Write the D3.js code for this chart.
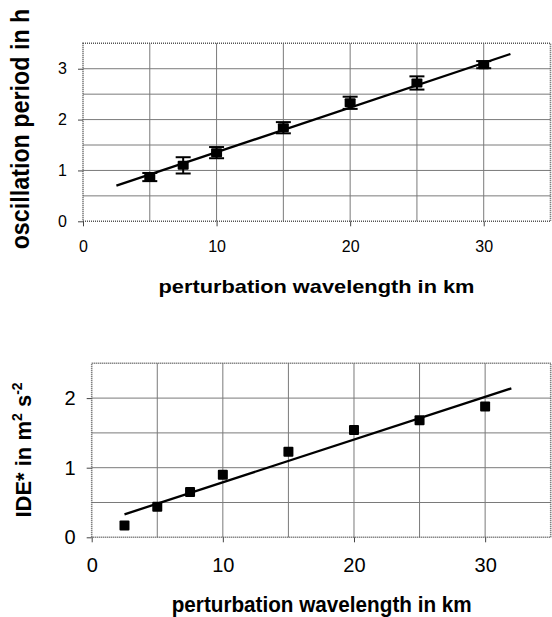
<!DOCTYPE html>
<html><head><meta charset="utf-8">
<script src="https://cdn.jsdelivr.net/npm/d3@7"></script>
<style>
html,body{margin:0;padding:0;background:#fff;}
svg{display:block;font-family:"Liberation Sans",Arial,Helvetica,sans-serif;}
</style></head>
<body>
<svg id="c" width="552" height="617"></svg>
<script>
// ---- data ----
const wavelengths1 = [5, 7.5, 10, 15, 20, 25, 30];
const periods = [0.87, 1.10, 1.35, 1.84, 2.33, 2.72, 3.08];
const periodErr = [0.08, 0.16, 0.11, 0.11, 0.12, 0.13, 0.07];
const periodFitX = [2.5, 32];
const periodFitY = [0.70, 3.29];

const wavelengths2 = [2.5, 5, 7.5, 10, 15, 20, 25, 30];
const ide = [0.17, 0.44, 0.65, 0.90, 1.23, 1.54, 1.68, 1.88];
const ideFitX = [2.5, 32];
const ideFitY = [0.33, 2.14];

const xTicks = [0, 10, 20, 30];
const xGrid = [5, 10, 15, 20, 25, 30];
const yTicks1 = [0, 1, 2, 3];
const yGrid1 = [0.5, 1, 1.5, 2, 2.5, 3];
const yTicks2 = [0, 1, 2];
const yGrid2 = [0.5, 1, 1.5, 2];

const svg = d3.select("#c");

function panel(opt) {
  const x = d3.scaleLinear().domain([0, 35]).range([opt.left, opt.right]);
  const y = d3.scaleLinear().domain([0, opt.ymax]).range([opt.bottom, opt.top]);
  const g = svg.append("g");

  // grid
  g.selectAll(".vg").data(xGrid).join("line")
    .attr("x1", d => x(d)).attr("x2", d => x(d))
    .attr("y1", opt.top).attr("y2", opt.bottom)
    .attr("stroke", "#7a7a7a").attr("stroke-width", 1);
  g.selectAll(".hg").data(opt.yGrid).join("line")
    .attr("x1", opt.left).attr("x2", opt.right)
    .attr("y1", d => y(d)).attr("y2", d => y(d))
    .attr("stroke", "#7a7a7a").attr("stroke-width", 1);

  // frame
  g.append("rect")
    .attr("x", opt.left).attr("y", opt.top)
    .attr("width", opt.right - opt.left).attr("height", opt.bottom - opt.top)
    .attr("fill", "none").attr("stroke", "#555").attr("stroke-width", 1.6)
    .attr("stroke-dasharray", "1 1");

  // axes
  const xa = g.append("g").attr("transform", `translate(0,${opt.bottom})`)
    .call(d3.axisBottom(x).tickValues(xTicks).tickSize(5).tickPadding(opt.xPad).tickFormat(d3.format("d")));
  xa.select(".domain").remove();
  xa.selectAll("line").attr("stroke", "#444");
  xa.selectAll("text").attr("font-size", opt.tickFont).attr("fill", "#000")
    .attr("font-family", '"Liberation Sans",Arial,sans-serif');

  const ya = g.append("g").attr("transform", `translate(${opt.left},0)`)
    .call(d3.axisLeft(y).tickValues(opt.yTicks).tickSize(5).tickPadding(opt.yPad).tickFormat(d3.format("d")));
  ya.select(".domain").remove();
  ya.selectAll("line").attr("stroke", "#444");
  ya.selectAll("text").attr("font-size", opt.tickFont).attr("fill", "#000")
    .attr("font-family", '"Liberation Sans",Arial,sans-serif');

  // fit line
  g.append("path")
    .datum(opt.fitX.map((d, i) => [d, opt.fitY[i]]))
    .attr("d", d3.line().x(d => x(d[0])).y(d => y(d[1])))
    .attr("fill", "none").attr("stroke", "#000").attr("stroke-width", 2.3);

  // error bars
  if (opt.err) {
    const eb = g.selectAll(".eb").data(opt.xs.map((d, i) => ({x: d, y: opt.ys[i], e: opt.err[i]}))).join("g");
    eb.append("line").attr("x1", d => x(d.x)).attr("x2", d => x(d.x))
      .attr("y1", d => y(d.y + d.e)).attr("y2", d => y(d.y - d.e))
      .attr("stroke", "#000").attr("stroke-width", 2);
    [1, -1].forEach(s => {
      eb.append("line").attr("x1", d => x(d.x) - 7.5).attr("x2", d => x(d.x) + 7.5)
        .attr("y1", d => y(d.y + s * d.e)).attr("y2", d => y(d.y + s * d.e))
        .attr("stroke", "#000").attr("stroke-width", 2);
    });
  }

  // markers
  const ms = opt.marker;
  g.selectAll(".m").data(opt.xs.map((d, i) => [d, opt.ys[i]])).join("rect")
    .attr("x", d => x(d[0]) - ms[0] / 2).attr("y", d => y(d[1]) - ms[1] / 2)
    .attr("width", ms[0]).attr("height", ms[1]).attr("rx", 1)
    .attr("fill", "#000");
  return {x, y};
}

panel({left: 83, right: 550.5, top: 43.3, bottom: 221.3, ymax: 3.5,
  yGrid: yGrid1, yTicks: yTicks1, tickFont: 16, xPad: 14, yPad: 11,
  xs: wavelengths1, ys: periods, err: periodErr, fitX: periodFitX, fitY: periodFitY,
  marker: [11, 9]});

panel({left: 91.7, right: 550.7, top: 363.3, bottom: 537.3, ymax: 2.5,
  yGrid: yGrid2, yTicks: yTicks2, tickFont: 20, xPad: 16, yPad: 11,
  xs: wavelengths2, ys: ide, err: null, fitX: ideFitX, fitY: ideFitY,
  marker: [10, 10]});

// axis titles
svg.append("text").attr("x", 316.5).attr("y", 292.5).attr("text-anchor", "middle")
  .attr("font-size", 19).attr("font-weight", "bold")
  .attr("textLength", 316).attr("lengthAdjust", "spacingAndGlyphs")
  .text("perturbation wavelength in km");

svg.append("text").attr("x", 321.7).attr("y", 611.5).attr("text-anchor", "middle")
  .attr("font-size", 22).attr("font-weight", "bold")
  .attr("textLength", 300).attr("lengthAdjust", "spacingAndGlyphs")
  .text("perturbation wavelength in km");

svg.append("text").attr("transform", "translate(28.5,129) rotate(-90) scale(1,1.1)")
  .attr("text-anchor", "middle")
  .attr("font-size", 23.3).attr("font-weight", "bold")
  .text("oscillation period in h");

const yl2 = svg.append("text").attr("transform", "translate(31,450) rotate(-90)")
  .attr("text-anchor", "middle")
  .attr("font-size", 22).attr("font-weight", "bold");
yl2.append("tspan").text("IDE* in m");
yl2.append("tspan").attr("font-size", 14).attr("dy", -9).text("2");
yl2.append("tspan").attr("dy", 9).text(" s");
yl2.append("tspan").attr("font-size", 14).attr("dy", -9).text("-2");
</script>
</body></html>
